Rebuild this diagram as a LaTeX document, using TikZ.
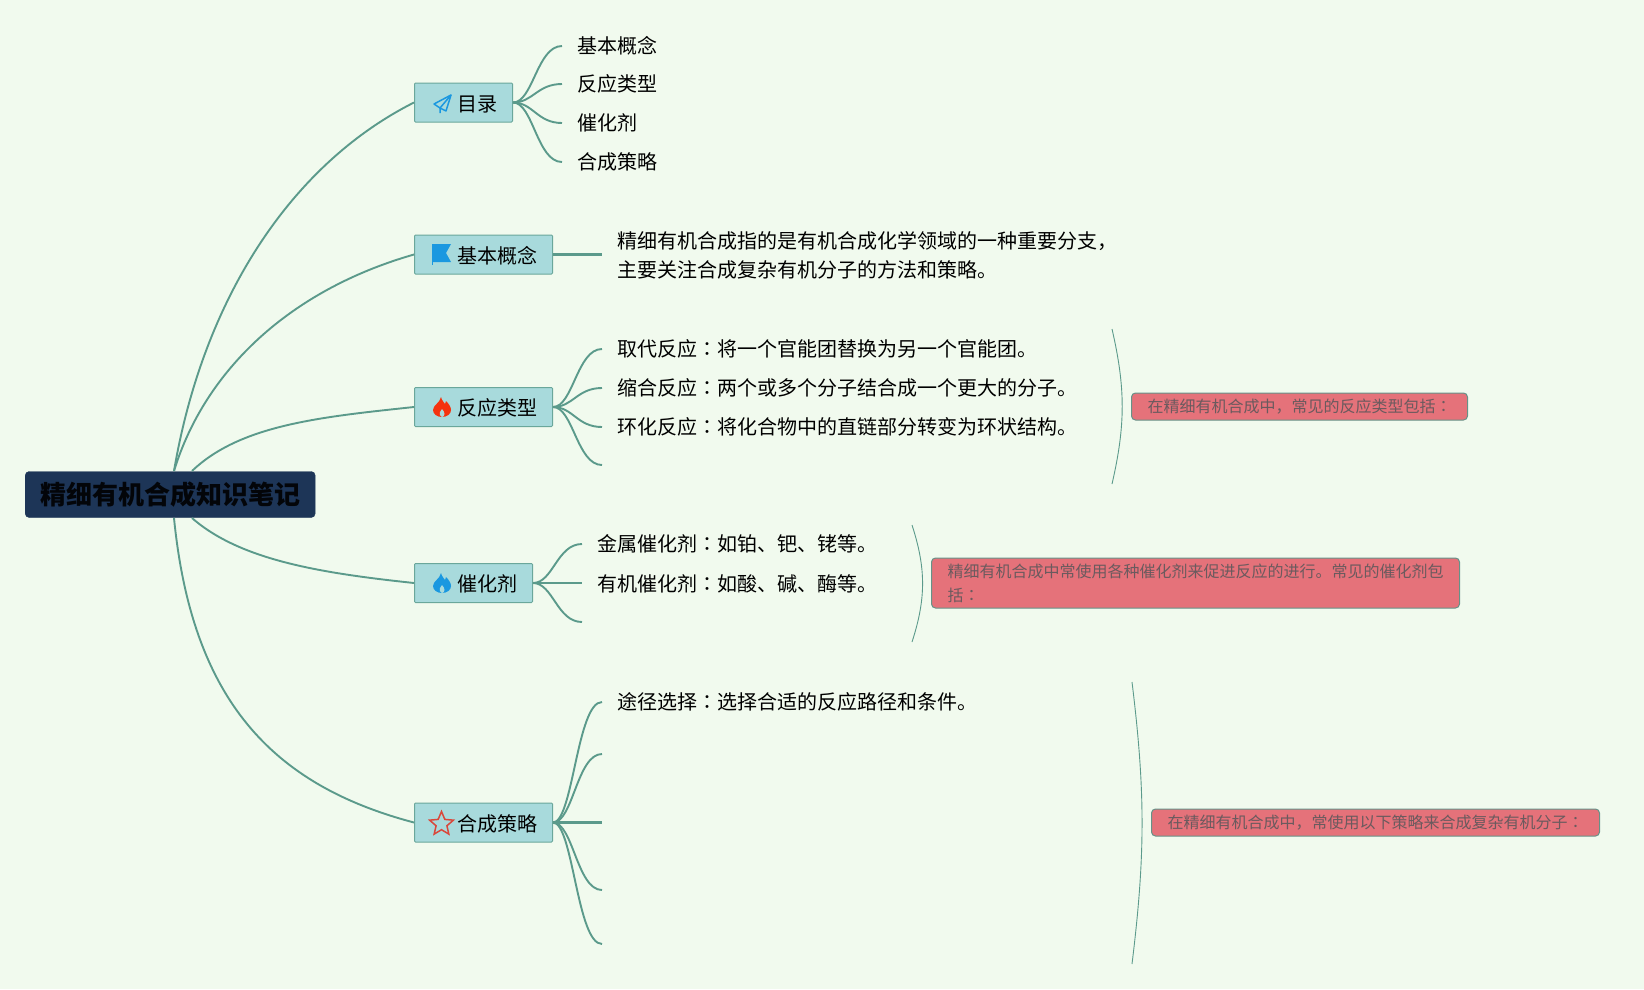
\documentclass[tikz,border=0pt]{standalone}
\usepackage{fontspec}
\setmainfont{Noto Sans CJK SC}
\newfontfamily\jpfont{Noto Sans CJK JP}
\usetikzlibrary{shapes.geometric}
\newcommand{\cl}{{\jpfont ：}}
\newcommand{\boxtext}[1]{\hspace{28pt}#1}
\definecolor{bgcol}{HTML}{F1FAEE}
\definecolor{rootcol}{HTML}{1D3557}
\definecolor{boxcol}{HTML}{A8DADC}
\definecolor{linecol}{HTML}{5B9A8B}
\definecolor{notecol}{HTML}{E5727A}
\definecolor{notetext}{HTML}{6B5A5E}
\definecolor{iconblue}{HTML}{1A98E0}
\definecolor{iconred}{HTML}{F5330F}
\definecolor{starcol}{HTML}{D9483B}
\tikzset{
  rootbox/.style={draw=rootcol, fill=rootcol, rounded corners=4pt, anchor=west, text=black!90!rootcol,
    minimum height=46pt, inner xsep=15pt, inner ysep=0pt, font=\fontsize{26pt}{30pt}\selectfont\bfseries},
  branch/.style={draw=linecol!80!boxcol, line width=1pt, fill=boxcol, rounded corners=1pt, anchor=west,
    minimum height=39pt, inner xsep=15pt, inner ysep=0pt, text height=20pt, text depth=2.6pt,
    font=\fontsize{20pt}{24pt}\selectfont},
  leaf/.style={anchor=west, inner xsep=15pt, inner ysep=0pt, align=left,
    font=\fontsize{20pt}{29pt}\selectfont},
  notebox/.style={draw=linecol!70!gray, line width=1pt, fill=notecol, rounded corners=4pt, anchor=west,
    inner xsep=16pt, inner ysep=4pt, minimum height=27pt, align=left, text=notetext,
    font=\fontsize{16pt}{24pt}\selectfont},
  link/.style={draw=linecol, line width=1.9pt},
  flatlink/.style={draw=linecol, line width=2.4pt},
  bracket/.style={draw=linecol, line width=0.9pt},
  flame/.pic={
    \fill (-1,-10) .. controls (0,-6) and (2,-5) .. (3,-3) .. controls (4,-4) and (4,-5) .. (4,-6)
      .. controls (7,-3) and (9,0) .. (9,3) .. controls (9,7) and (5,10) .. (0,10)
      .. controls (-5,10) and (-9,7) .. (-9,3) .. controls (-9,-2) and (-2,-4) .. (-1,-10);
    \fill[boxcol] (0,10) .. controls (-2,9) and (-3,7) .. (-2,5) .. controls (-1,4) and (-0.5,3.5) .. (0,2)
      .. controls (1,4) and (3,5) .. (2.5,7) .. controls (2.5,9) and (1,10) .. (0,10);
  }
}

\begin{document}
\begin{tikzpicture}[x=1pt, y=-1pt]
  % Background
  \fill[bgcol] (0,0) rectangle (1644,989);
  \useasboundingbox (0,0) rectangle (1644,989);

  % Root and main branches
  \node[rootbox] (root) at (25,494.5) {\raisebox{-1pt}{精细有机合成知识笔记}};
  \node[branch] (mulu) at (414,102.5) {\boxtext{目录}};
  \node[branch] (gainian) at (414,254.5) {\boxtext{基本概念}};
  \node[branch] (fanying) at (414,407) {\boxtext{反应类型}};
  \node[branch] (cuihua) at (414,583) {\boxtext{催化剂}};
  \node[branch] (celue) at (414,822.5) {\boxtext{合成策略}};

  % Where the root links leave the box
  \coordinate (rootNa) at (174,471);
  \coordinate (rootNb) at (192,471);
  \coordinate (rootSa) at (174,518);
  \coordinate (rootSb) at (192,518);

  % Links from the root
  \draw[link] (rootNa) .. controls (203,300) and (290,165) .. (mulu.west);
  \draw[link] (rootNa) .. controls (205,370) and (290,290) .. (gainian.west);
  \draw[link] (rootNb) .. controls (240,425) and (320,417) .. (fanying.west);
  \draw[link] (rootSb) .. controls (240,560) and (320,573) .. (cuihua.west);
  \draw[link] (rootSa) .. controls (192,700) and (272,785) .. (celue.west);

  % Icons
  \draw[iconblue, line width=1.5pt, line join=round] (451,95) -- (434,104) -- (440,108) -- (446,111) -- cycle;
  \draw[iconblue, line width=1.5pt, line join=round] (451,95) -- (440,108) -- (440,113);
  \fill[iconblue] (432,244) -- (451,244) -- (446,253) -- (451,262) -- (432,262) -- cycle;
  \draw[iconblue, line width=0.8pt] (432,244) -- (432,265);
  \pic[iconred] at (442,407) {flame};
  \pic[iconblue] at (442,583) {flame};
  \node[star, star points=5, star point ratio=2.2, draw=starcol, line width=1.5pt, minimum size=25pt, inner sep=0pt] (xing) at (441.5,824) {};

  % Leaves of the first branch
  \node[leaf] (m1) at (562,46) {基本概念};
  \node[leaf] (m2) at (562,84) {反应类型};
  \node[leaf] (m3) at (562,123) {催化剂};
  \node[leaf] (m4) at (562,162) {合成策略};
  \draw[link] (mulu.east) .. controls +(20,0) and +(-25,0) .. (m1.west);
  \draw[link] (mulu.east) .. controls +(20,0) and +(-25,0) .. (m2.west);
  \draw[link] (mulu.east) .. controls +(20,0) and +(-25,0) .. (m3.west);
  \draw[link] (mulu.east) .. controls +(20,0) and +(-25,0) .. (m4.west);

  % Second branch
  \node[leaf] (g1) at (602,255.5) {精细有机合成指的是有机合成化学领域的一种重要分支，\\主要关注合成复杂有机分子的方法和策略。};
  \draw[flatlink] (gainian.east) -- (g1.west |- gainian.east);

  % Third branch
  \node[leaf] (f1) at (602,349) {取代反应\cl 将一个官能团替换为另一个官能团。};
  \node[leaf] (f2) at (602,388) {缩合反应\cl 两个或多个分子结合成一个更大的分子。};
  \node[leaf] (f3) at (602,427) {环化反应\cl 将化合物中的直链部分转变为环状结构。};
  \coordinate (f4) at (602,465);
  \draw[link] (fanying.east) .. controls +(20,0) and +(-25,0) .. (f1.west);
  \draw[link] (fanying.east) .. controls +(20,0) and +(-25,0) .. (f2.west);
  \draw[link] (fanying.east) .. controls +(20,0) and +(-25,0) .. (f3.west);
  \draw[link] (fanying.east) .. controls +(20,0) and +(-25,0) .. (f4);

  % Fourth branch
  \node[leaf] (c1) at (582,544) {金属催化剂\cl 如铂、钯、铑等。};
  \node[leaf] (c2) at (582,583.5) {有机催化剂\cl 如酸、碱、酶等。};
  \coordinate (c3) at (582,622);
  \draw[link] (cuihua.east) .. controls +(20,0) and +(-25,0) .. (c1.west);
  \draw[flatlink] (cuihua.east) -- (c2.west |- cuihua.east);
  \draw[link] (cuihua.east) .. controls +(20,0) and +(-25,0) .. (c3);

  % Fifth branch
  \node[leaf] (s1) at (602,702) {途径选择\cl 选择合适的反应路径和条件。};
  \coordinate (s2) at (602,754);
  \coordinate (s3) at (602,822.5);
  \coordinate (s4) at (602,890);
  \coordinate (s5) at (602,944);
  \draw[link] (celue.east) .. controls +(20,0) and +(-25,0) .. (s1.west);
  \draw[link] (celue.east) .. controls +(20,0) and +(-25,0) .. (s2);
  \draw[flatlink] (celue.east) -- (s3);
  \draw[link] (celue.east) .. controls +(20,0) and +(-25,0) .. (s4);
  \draw[link] (celue.east) .. controls +(20,0) and +(-25,0) .. (s5);

  % Summary brackets and their notes
  \coordinate (sumAt) at (1112,329);
  \coordinate (sumAb) at (1112,484);
  \coordinate (sumBt) at (912,525);
  \coordinate (sumBb) at (912,642);
  \coordinate (sumCt) at (1132,682);
  \coordinate (sumCb) at (1132,964);
  \draw[bracket] (sumAt) to[bend left=13] (sumAb);
  \draw[bracket] (sumBt) to[bend left=18] (sumBb);
  \draw[bracket] (sumCt) to[bend left=7] (sumCb);
  \node[notebox] (noteA) at (1131,406.5) {在精细有机合成中，常见的反应类型包括\cl};
  \node[notebox, minimum height=50pt] (noteB) at (931,583) {精细有机合成中常使用各种催化剂来促进反应的进行。常见的催化剂包\\括\cl};
  \node[notebox] (noteC) at (1151,822.5) {在精细有机合成中，常使用以下策略来合成复杂有机分子\cl};

\end{tikzpicture}
\end{document}
